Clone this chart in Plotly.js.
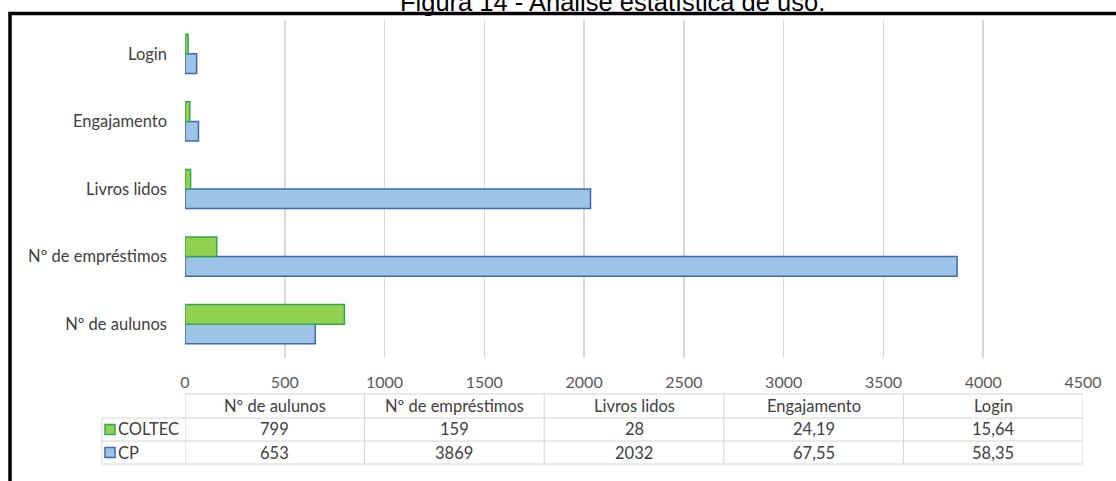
<!DOCTYPE html>
<html>
<head>
<meta charset="utf-8">
<script src="https://cdn.plot.ly/plotly-3.0.1.min.js"></script>
<style>html,body{margin:0;padding:0;background:#fff;}#chart{width:1116px;height:481px;}</style>
</head>
<body>
<div id="chart"></div>
<script>
// ---- data ----
const categories = ['Nº de aulunos', 'Nº de empréstimos', 'Livros lidos', 'Engajamento', 'Login'];
const seriesNames = ['COLTEC', 'CP'];
const coltecValues = [799, 159, 28, 24.19, 15.64];
const cpValues = [653, 3869, 2032, 67.55, 58.35];
const xTickValues = [0, 500, 1000, 1500, 2000, 2500, 3000, 3500, 4000, 4500];
const titleText = 'Figura 14 - Análise estatística de uso.';

// ---- styles ----
const green = '#92d050', greenLine = '#2fa84f';
const blue = '#9dc3e6', blueLine = '#3c69b0';
const textColor = '#404040';
const gridColor = '#d9d9d9';
const labelFont = 'Lato, "Open Sans", sans-serif';
const labelSize = 16.5;

const W = 1116, H = 481;
const M = {l: 185, r: 33, t: 20, b: 123};
const plotH = H - M.t - M.b;
const plotW = W - M.l - M.r;
const py = p => (H - M.b - p) / plotH;      // pixel y -> paper y
const px = p => (p - M.l) / plotW;          // pixel x -> paper x
const fmt = v => String(v).replace('.', ',');

const traces = [
  {type: 'bar', orientation: 'h', name: seriesNames[1], y: categories, x: cpValues,
   marker: {color: blue, line: {color: blueLine, width: 1.5}}, hoverinfo: 'x+y'},
  {type: 'bar', orientation: 'h', name: seriesNames[0], y: categories, x: coltecValues,
   marker: {color: green, line: {color: greenLine, width: 1.5}}, hoverinfo: 'x+y'}
];

// ---- data table under the axis ----
const shapes = [];
const annotations = [];
const xMax = xTickValues[xTickValues.length - 1];
const colW = xMax / categories.length;
const rowY = [394, 418, 441, 464];   // pixel lines of the table
const tableLeft = px(102);
const lineStyle = {color: '#d4d4d4', width: 1};

// horizontal lines
shapes.push({type: 'line', xref: 'x', yref: 'paper', x0: 0, x1: xMax, y0: py(rowY[0]), y1: py(rowY[0]), line: lineStyle});
for (let r = 1; r < rowY.length; r++) {
  shapes.push({type: 'line', xref: 'paper', yref: 'paper', x0: tableLeft, x1: 1, y0: py(rowY[r]), y1: py(rowY[r]), line: lineStyle});
}
// vertical lines
shapes.push({type: 'line', xref: 'paper', yref: 'paper', x0: tableLeft, x1: tableLeft, y0: py(rowY[1]), y1: py(rowY[3]), line: lineStyle});
for (let c = 0; c <= categories.length; c++) {
  shapes.push({type: 'line', xref: 'x', yref: 'paper', x0: c * colW, x1: c * colW, y0: py(rowY[0]), y1: py(rowY[3]), line: lineStyle});
}
// cells
const rowsText = [categories, coltecValues.map(fmt), cpValues.map(fmt)];
for (let r = 0; r < 3; r++) {
  const yc = py((rowY[r] + rowY[r + 1]) / 2);
  rowsText[r].forEach((t, c) => {
    annotations.push({xref: 'x', yref: 'paper', x: (c + 0.5) * colW, y: yc, text: t, showarrow: false,
      xanchor: 'center', yanchor: 'middle', font: {family: labelFont, size: labelSize, color: textColor}});
  });
}
// legend keys in the table
const keyColors = [[green, greenLine], [blue, blueLine]];
seriesNames.forEach((n, i) => {
  const yc = (rowY[i + 1] + rowY[i + 2]) / 2;
  shapes.push({type: 'rect', xref: 'paper', yref: 'paper', x0: px(105), x1: px(115), y0: py(yc - 5), y1: py(yc + 5),
    fillcolor: keyColors[i][0], line: {color: keyColors[i][1], width: 1.5}});
  annotations.push({xref: 'paper', yref: 'paper', x: px(116), y: py(yc), text: n, showarrow: false,
    xanchor: 'left', yanchor: 'middle', font: {family: labelFont, size: labelSize, color: textColor}});
});

// frame (left + top black lines)
shapes.push({type: 'line', xref: 'paper', yref: 'paper', x0: px(10), x1: px(10), y0: py(13.5), y1: py(490), line: {color: '#000', width: 3.5}});
shapes.push({type: 'line', xref: 'paper', yref: 'paper', x0: px(8.3), x1: px(1130), y0: py(13.5), y1: py(13.5), line: {color: '#000', width: 3.5}});

// title (partially cut off at the top, as in the reference)
annotations.push({xref: 'paper', yref: 'paper', x: px(612), y: py(1.5), text: titleText, showarrow: false,
  xanchor: 'center', yanchor: 'middle', font: {family: 'Liberation Sans, Arial, sans-serif', size: 25.5, color: '#000'}});

const layout = {
  width: W, height: H,
  margin: M,
  paper_bgcolor: '#fff', plot_bgcolor: '#fff',
  showlegend: false,
  barmode: 'group',
  bargap: 0.42,
  bargroupgap: 0,
  xaxis: {
    range: [0, xMax], tickvals: xTickValues, ticktext: xTickValues.map(String),
    showgrid: true, gridcolor: gridColor, gridwidth: 1.5, zeroline: false, showline: false,
    ticks: '', ticklabelstandoff: 13,
    tickfont: {family: labelFont, size: 16, color: '#595959'}, fixedrange: true
  },
  yaxis: {
    type: 'category', categoryorder: 'array', categoryarray: categories,
    showgrid: false, zeroline: false, showline: false, ticks: '', ticklabelstandoff: 17,
    tickfont: {family: labelFont, size: labelSize, color: textColor}, fixedrange: true
  },
  shapes: shapes,
  annotations: annotations
};

Plotly.newPlot('chart', traces, layout, {displayModeBar: false, staticPlot: true});
</script>
</body>
</html>
